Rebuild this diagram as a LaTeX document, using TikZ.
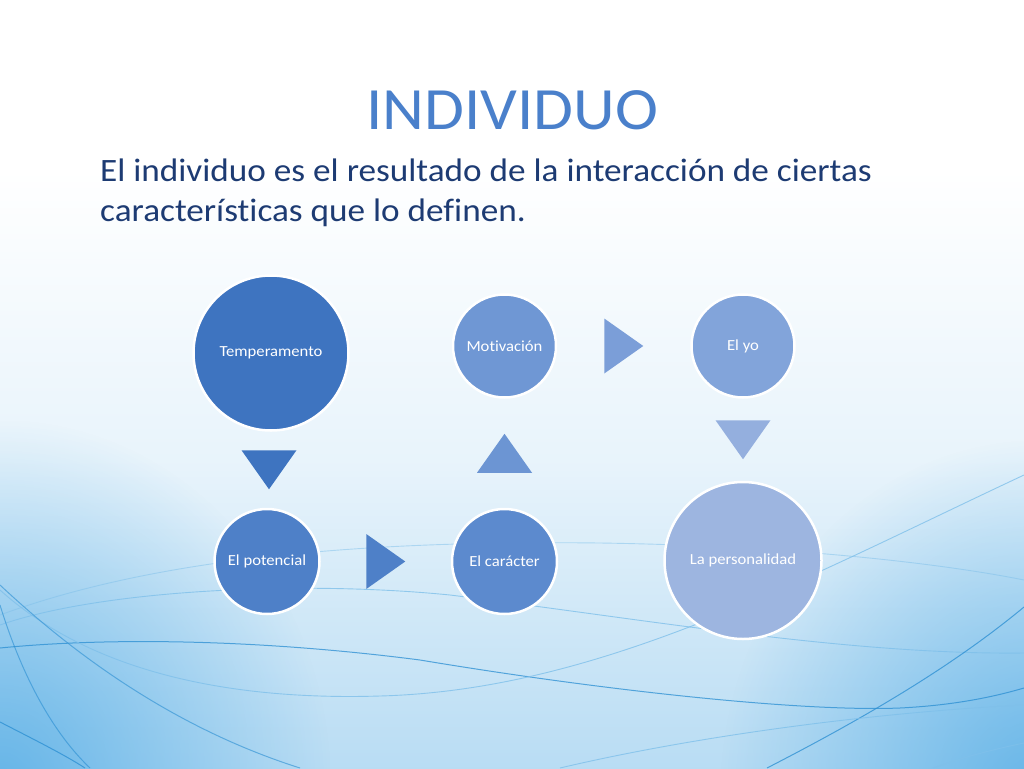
\documentclass[tikz,border=0pt]{standalone}
\usepackage{fontspec}
\setmainfont{Carlito}[FakeStretch=1.08,Ligatures=NoCommon]
\usetikzlibrary{positioning,calc,fadings}
\definecolor{cTit}{HTML}{4A80CB}
\definecolor{cSub}{HTML}{1D3B73}
\definecolor{cC1}{HTML}{3E74C0}
\definecolor{cC2}{HTML}{4E80C8}
\definecolor{cC3}{HTML}{5C8ACE}
\definecolor{cC4}{HTML}{6F97D4}
\definecolor{cC5}{HTML}{82A4DA}
\definecolor{cC6}{HTML}{9DB5E0}
\definecolor{cT3}{HTML}{6C95D3}
\definecolor{cT4}{HTML}{7B9ED8}
\definecolor{cT5}{HTML}{94AFDE}
\definecolor{cWave}{HTML}{2A8ED2}
\definecolor{cWaveL}{HTML}{7FC0EA}
\definecolor{cCorner}{HTML}{4AA8E4}
\pgfdeclareverticalshading{bgfade}{100bp}{color(0bp)=(cWaveL!80!white); color(25bp)=(cWaveL!55!white); color(45bp)=(cWaveL!18!white); color(64bp)=(white); color(100bp)=(white)}
\tikzfading[name=cornerfade, inner color=transparent!25, outer color=transparent!100]
\newcommand{\tria}[3]{\fill[#3,shift={(#1)},rotate=#2] (-19.5pt,27.5pt) -- (19.5pt,0pt) -- (-19.5pt,-27.5pt) -- cycle;}
\begin{document}
\begin{tikzpicture}[x=1pt,y=-1pt,
  circ/.style={circle,draw=white,line width=2.5pt,text=white,font=\fontsize{15.4}{18}\selectfont,inner sep=0pt},
  wave/.style={cWave,line width=1pt,opacity=0.75},
  wavel/.style={cWaveL,line width=0.9pt,opacity=0.8}]
\useasboundingbox (0,0) rectangle (1024,768);
\begin{scope}
\clip (0,0) rectangle (1024,768);
\shade[shading=bgfade] (0,0) rectangle (1024,768);
\fill[cCorner,path fading=cornerfade] (-330,420) rectangle (330,1150);
\fill[cCorner,path fading=cornerfade] (720,440) rectangle (1360,1150);
% waves
\draw[wave] (0,648) .. controls (100,638) and (250,638) .. (420,660) .. controls (600,690) and (800,712) .. (900,708) .. controls (960,705) and (1000,695) .. (1024,688);
\draw[wavel] (0,590) .. controls (100,680) and (250,700) .. (380,696) .. controls (600,690) and (800,580) .. (1024,475);
\draw[wavel] (0,625) .. controls (100,590) and (300,580) .. (450,595) .. controls (650,620) and (850,655) .. (1024,653);
\draw[wavel,opacity=0.5] (0,615) .. controls (150,560) and (350,540) .. (600,543) .. controls (800,546) and (950,565) .. (1024,580);
\draw[wave] (767,768) .. controls (880,710) and (960,660) .. (1024,607);
\draw[wavel] (560,768) .. controls (700,735) and (880,712) .. (1024,705);
\draw[wavel] (933,768) .. controls (970,755) and (1000,748) .. (1024,743);
\draw[wave,opacity=0.6] (0,585) .. controls (80,660) and (180,730) .. (300,768);
\draw[wave,opacity=0.6] (0,605) .. controls (20,670) and (50,730) .. (90,768);
\draw[wave] (0,722) .. controls (35,740) and (65,755) .. (85,768);
\end{scope}
% texts
\node(NTit)[text=cTit,font=\fontsize{60}{70}\selectfont] at (512,110){INDIVIDUO};
\node(NS1)[anchor=base west,text=cSub,font=\fontsize{32.6}{40}\selectfont,inner sep=0pt] at (100,181){El individuo es el resultado de la interacción de ciertas};
\node(NS2)[anchor=base west,text=cSub,font=\fontsize{32.6}{40}\selectfont,inner sep=0pt] at ([yshift=-40pt]NS1.base west){características que lo definen.};
% circles
\node(NC1)[circ,fill=cC1,minimum size=155pt] at (271,353){Temperamento};
\node(NC2)[circ,fill=cC2,minimum size=105pt,below=76pt of NC1,xshift=-4pt]{El potencial};
\node(NC3)[circ,fill=cC3,minimum size=105pt,right=130pt of NC2]{El carácter};
\node(NC4)[circ,fill=cC4,minimum size=103pt,above=109pt of NC3]{Motivación};
\node(NC5)[circ,fill=cC5,minimum size=103pt,right=133pt of NC4]{El yo};
\node(NC6)[circ,fill=cC6,minimum size=157pt,below=82pt of NC5]{La personalidad};
% triangles
\coordinate(NT1) at ($(NC1.south)!0.5!(NC2.north)$);
\coordinate(NT2) at ($(NC2.east)!0.5!(NC3.west)$);
\coordinate(NT3) at ($(NC3.north)!0.5!(NC4.south)$);
\coordinate(NT4) at ($(NC4.east)!0.5!(NC5.west)$);
\coordinate(NT5) at ($(NC5.south)!0.5!(NC6.north)$);
\tria{NT1}{-90}{cC1}
\tria{NT2}{0}{cC2}
\tria{NT3}{90}{cT3}
\tria{NT4}{0}{cT4}
\tria{NT5}{-90}{cT5}
\end{tikzpicture}
\end{document}
